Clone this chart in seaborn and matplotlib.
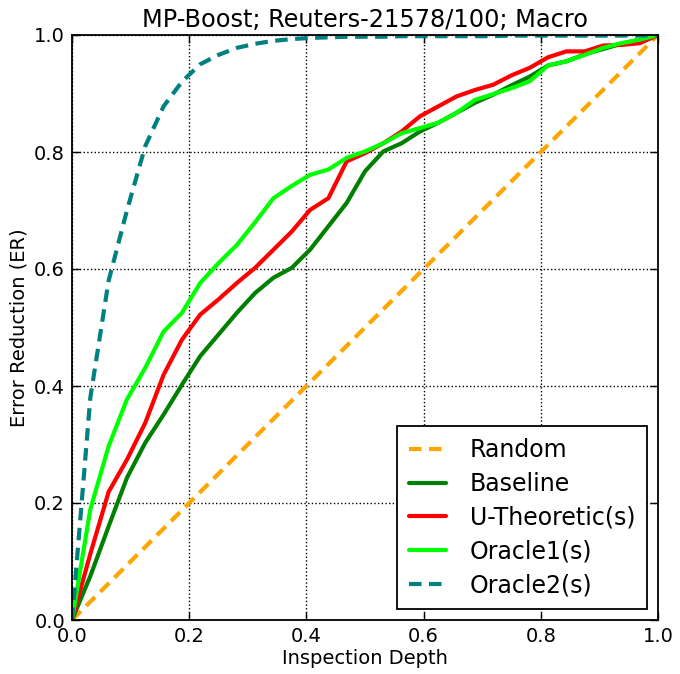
import numpy as np
import pandas as pd
import matplotlib
matplotlib.use("Agg")
import matplotlib.pyplot as plt
import seaborn as sns

# ---- data ----
depth = [k / 32 for k in range(33)]
random_er = [k / 32 for k in range(33)]
baseline = [0, .075, .16, .243, .303, .351, .402, .451, .488, .525, .559, .585, .602,
            .633, .673, .713, .767, .801, .815, .835, .850, .867, .884, .898, .914,
            .929, .948, .955, .967, .976, .985, .992, 1.0]
u_theoretic = [0, .113, .219, .274, .337, .419, .479, .522, .548, .576, .602, .633, .664,
               .701, .721, .784, .798, .815, .835, .861, .878, .895, .906, .915, .931,
               .944, .962, .972, .972, .982, .983, .986, 1.0]
oracle1 = [0, .189, .297, .377, .431, .493, .525, .576, .61, .641, .68, .721, .742,
           .761, .770, .790, .801, .815, .832, .841, .850, .867, .889, .899, .909,
           .921, .948, .955, .966, .978, .986, .992, 1.0]
oracle2 = [0, .38, .58, .70, .81, .878, .92, .95, .966, .978, .985, .99, .993,
           .995, .996, .997, .997, .997, .998, .998, .998, .998, .998, .998, .999,
           .999, .999, .999, .999, .999, .999, .999, .999]

series_names = ["Random", "Baseline", "U-Theoretic(s)", "Oracle1(s)", "Oracle2(s)"]
series_vals = [random_er, baseline, u_theoretic, oracle1, oracle2]
colors = ["#FFA500", "#008000", "#FF0000", "#00FF00", "#008080"]
dashed = [True, False, False, False, True]

sns.set_style("ticks")
plt.rcParams["font.family"] = ["DejaVu Sans"]
plt.rcParams["xtick.direction"] = "in"
plt.rcParams["ytick.direction"] = "in"
plt.rcParams["text.color"] = "black"
plt.rcParams["axes.labelcolor"] = "black"
plt.rcParams["xtick.color"] = "black"
plt.rcParams["ytick.color"] = "black"

fig = plt.figure(figsize=(6.8, 6.74), dpi=100)
ax = fig.add_axes([72 / 680, 1 - 620 / 674, (658 - 72) / 680, (620 - 35) / 674])

for name, vals, col, dsh in zip(series_names, series_vals, colors, dashed):
    df = pd.DataFrame({"x": depth, "y": vals})
    sns.lineplot(data=df, x="x", y="y", ax=ax, color=col, linewidth=3, label=name,
                 estimator=None, sort=False)
    ln = ax.lines[-1]
    if dsh:
        ln.set_linestyle((0, (3.0, 1.8)))

ax.set_xlim(0, 1)
ax.set_ylim(0, 1)
ax.set_xticks(np.arange(0, 1.01, 0.2))
ax.set_yticks(np.arange(0, 1.01, 0.2))
ax.set_xticklabels([f"{v:.1f}" for v in np.arange(0, 1.01, 0.2)])
ax.set_yticklabels([f"{v:.1f}" for v in np.arange(0, 1.01, 0.2)])
ax.grid(True, color="black", linestyle=":", linewidth=1)
ax.tick_params(axis="both", which="both", direction="in", top=True, right=True,
               length=6, width=1, labelsize=14, pad=5, colors="black")
for s in ax.spines.values():
    s.set_linewidth(1.3)
    s.set_color("black")
    s.set_visible(True)

ax.set_xlabel("Inspection Depth", fontsize=14, labelpad=2, color="black")
ax.set_ylabel("Error Reduction (ER)", fontsize=14, labelpad=4, color="black")
ax.set_title("MP-Boost; Reuters-21578/100; Macro", fontsize=17.3, pad=6, color="black")

leg = ax.legend(loc="lower right", fontsize=17, frameon=True, fancybox=False,
                edgecolor="black", framealpha=1, handlelength=1.6, handletextpad=1.0,
                labelspacing=0.42, borderpad=0.5, borderaxespad=0.45)
leg.get_frame().set_linewidth(1.3)
for t in leg.get_texts():
    t.set_color("black")

fig.savefig("out.png", dpi=100)
